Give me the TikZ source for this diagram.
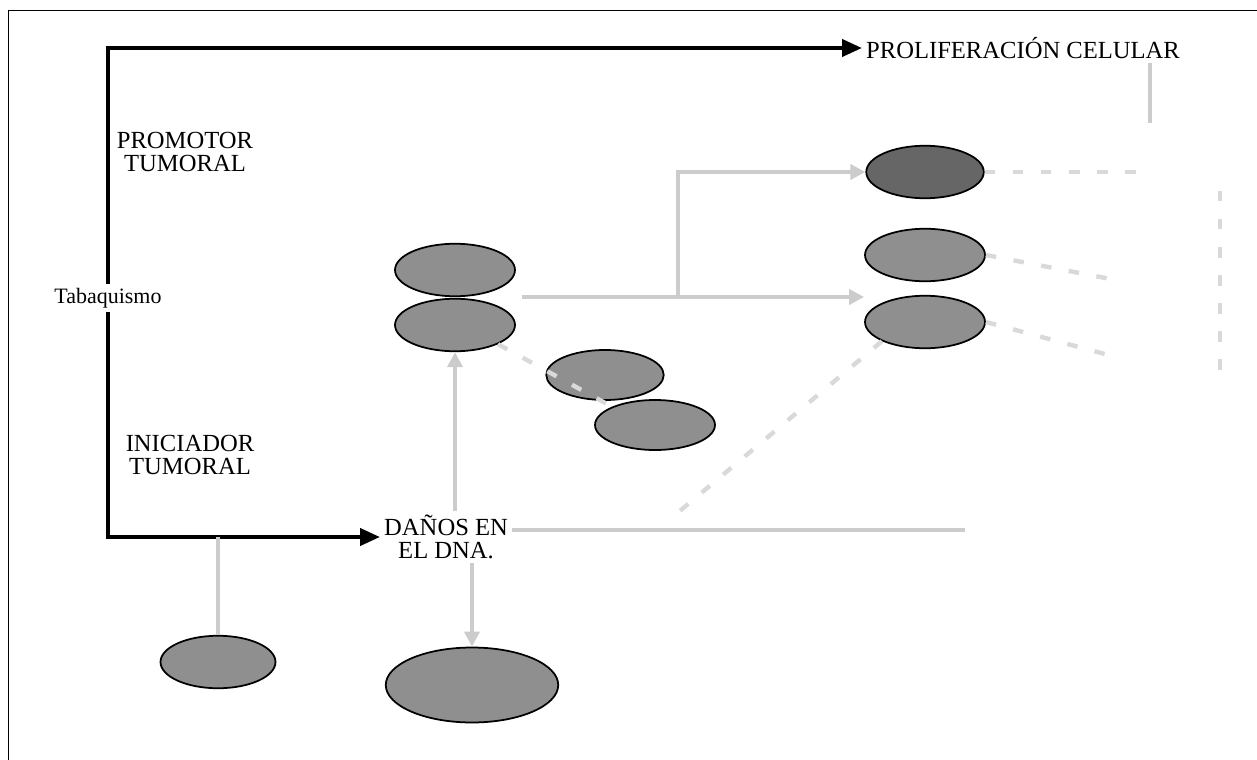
\documentclass[tikz,border=0pt]{standalone}
\usepackage{fontspec}
\setmainfont{Liberation Serif}
\usetikzlibrary{positioning,arrows.meta,shapes.geometric}

\begin{document}
\begin{tikzpicture}[x=0.02cm, y=-0.02cm, thick,
    main/.style = {draw, ellipse, fill=gray!88, line width=1pt, minimum width=2.4cm, minimum height=1.05cm},
    txt/.style = {font=\fontsize{14}{13}\selectfont, align=center, inner sep=2pt},
    flow/.style = {line width=2.3pt, -{Triangle[length=4mm,width=3.4mm]}},
    link/.style = {gray!40, line width=2.5pt},
    faint/.style = {gray!30, line width=2.5pt, dash pattern=on 6pt off 10pt}]
    \useasboundingbox (0,0) rectangle (1257,760);
    \draw[thin] (8,760) -- (8,10) -- (1257,10);

    % texts
    \node[txt, font=\fontsize{12.5}{13}\selectfont] (tabaco) at (108,298) {Tabaquismo};
    \node[txt] (promotor) at (185,152) {PROMOTOR\\TUMORAL};
    \node[txt] (iniciador) at (190,455) {INICIADOR\\TUMORAL};
    \node[txt, anchor=west] (prolif) at (862,48) {PROLIFERACIÓN CELULAR};
    \node[txt, anchor=west] (danos) at (380,537) {DAÑOS EN\\EL DNA.};

    % ellipses
    \node[main] (e1) at (455,270) {};
    \node[main] (e2) at (455,325) {};
    \node[main, minimum width=2.35cm, minimum height=1cm] (e3) at (605,375) {};
    \node[main, minimum width=2.4cm, minimum height=1cm] (e4) at (655,425) {};
    \node[main, fill=black!60, minimum width=2.35cm] (r1) at (925,172) {};
    \node[main] (r2) at (925,255) {};
    \node[main] (r3) at (925,322) {};
    \node[main, minimum width=2.3cm] (b1) at (218,662) {};
    \node[main, minimum width=3.45cm, minimum height=1.5cm] (b2) at (472,685) {};

    \coordinate (stack) at (522,297);
    \coordinate (branch) at (678,297);
    \coordinate (dnaend) at (965,530);
    \coordinate (fall) at (675,515);
    \coordinate (col) at (1150,172);
    \coordinate (colb) at (1220,370);

    % main paths
    \draw[flow] (tabaco.north) |- (prolif.west);
    \draw[flow] (tabaco.south) |- (danos.west);

    % grey links
    \draw[link, -{Triangle[length=3mm,width=3mm]}] (stack) -- (stack -| r3.west);
    \draw[link, -{Triangle[length=3mm,width=3mm]}] (branch) |- (r1.west);
    \draw[link, {Triangle[length=3mm,width=3mm]}-] (e2.south) -- (e2.south |- danos.north);
    \draw[link, -{Triangle[length=3mm,width=3mm]}] (danos.south -| b2.north) -- (b2.north);
    \draw[link] (b1.north) -- (b1.north |- danos.west);
    \draw[link] (danos.east |- dnaend) -- (dnaend);
    \draw[faint] (e2.south east) -- (e4.north west);
    \draw[faint] (r3.south west) -- (fall);
    \draw[link] (prolif.south -| col) -- ++(0,60);
    \draw[faint] (r1.east) -- (col);
    \draw[faint] (r2.east) -- ++(130,25);
    \draw[faint] (r3.east) -- ++(130,35);
    \draw[faint] (colb) -- ++(0,-185);
\end{tikzpicture}
\end{document}
